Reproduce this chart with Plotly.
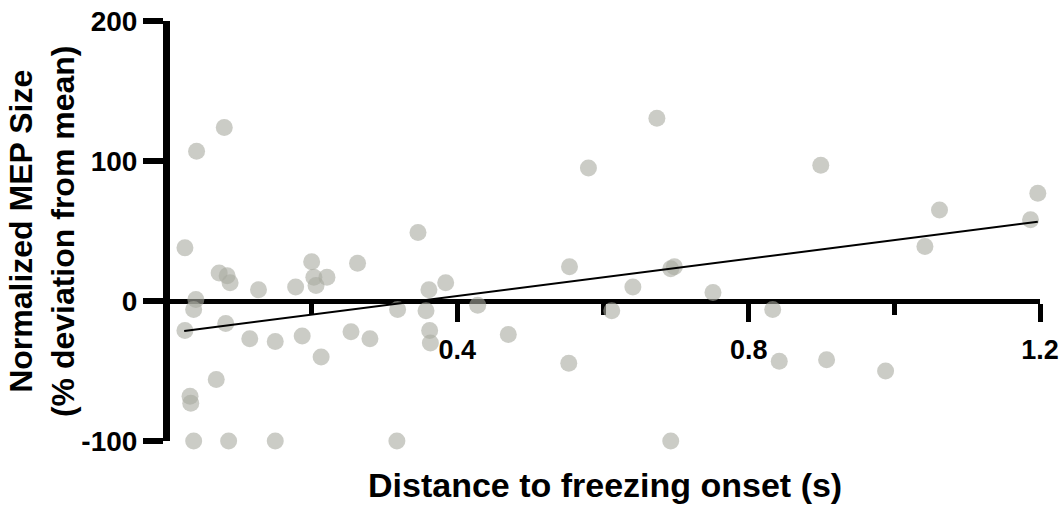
import plotly.graph_objects as go

# Scatter data
dist_s = [0.026, 0.042, 0.080, 0.073, 0.084, 0.088, 0.127, 0.178, 0.200, 0.203,
          0.206, 0.221, 0.263, 0.041, 0.038, 0.026, 0.082, 0.115, 0.150, 0.187,
          0.213, 0.254, 0.280, 0.069, 0.033, 0.034, 0.038, 0.086, 0.150, 0.346,
          0.361, 0.384, 0.318, 0.357, 0.428, 0.362, 0.363, 0.470, 0.317, 0.554,
          0.553, 0.580, 0.612, 0.641, 0.674, 0.693, 0.698, 0.693, 0.751, 0.833,
          0.842, 0.899, 0.907, 0.988, 1.042, 1.062, 1.187, 1.197]
mep_pct = [38, 107, 124, 20, 18, 13, 8, 10, 28, 17,
           11, 17, 27, 1, -6, -21, -16, -27, -29, -25,
           -40, -22, -27, -56, -68, -73, -100, -100, -100, 49,
           8, 13, -6, -7, -3, -21, -30, -24, -100, 24.5,
           -44.5, 95, -7, 10, 130.5, 23, 24.5, -100, 6, -6,
           -43, 97, -42, -50, 39, 65, 58, 77]

# Regression line end points
fit_x = [0.025, 1.197]
fit_y = [-21.4, 56.6]

x_major_ticks = [0.4, 0.8, 1.2]
x_major_labels = ["0.4", "0.8", "1.2"]
x_minor_ticks = [0.2, 0.6, 1.0]
y_ticks = [-100, 0, 100, 200]
y_labels = ["-100", "0", "100", "200"]

FONT = "Liberation Sans, Arial, sans-serif"

fig = go.Figure()
fig.add_trace(go.Scatter(
    x=dist_s, y=mep_pct, mode="markers",
    marker=dict(size=17, color="rgb(168,170,160)", opacity=0.6, line=dict(width=0)),
    cliponaxis=False, showlegend=False, hoverinfo="x+y"))
fig.add_trace(go.Scatter(
    x=fit_x, y=fit_y, mode="lines",
    line=dict(color="black", width=2),
    cliponaxis=False, showlegend=False, hoverinfo="skip"))

fig.update_layout(
    width=1062, height=507,
    margin=dict(l=170, r=22, t=21, b=66, autoexpand=False),
    paper_bgcolor="white", plot_bgcolor="white",
    font=dict(family=FONT, color="black"),
    xaxis=dict(
        range=[0.0055, 1.2], anchor="free", position=1/3,
        showline=True, linecolor="black", linewidth=5,
        showgrid=False, zeroline=False,
        tickmode="array", tickvals=x_major_ticks, ticktext=x_major_labels,
        ticks="outside", ticklen=18, tickwidth=5, tickcolor="black",
        ticklabelstandoff=5,
        tickfont=dict(family=FONT, size=27, color="black", weight="bold"),
        minor=dict(tickmode="array", tickvals=x_minor_ticks, ticks="outside",
                   ticklen=11, tickwidth=5, tickcolor="black", showgrid=False),
        layer="below traces",
    ),
    yaxis=dict(
        range=[-100, 200],
        showline=True, linecolor="black", linewidth=7,
        showgrid=False, zeroline=False,
        tickmode="array", tickvals=y_ticks, ticktext=y_labels,
        ticks="outside", ticklen=20, tickwidth=6, tickcolor="black",
        tickfont=dict(family=FONT, size=28, color="black", weight="bold"),
        layer="below traces",
    ),
    annotations=[
        dict(text="Distance to freezing onset (s)", xref="paper", yref="paper",
             x=0.5, y=-0.105, xanchor="center", yanchor="middle", showarrow=False,
             font=dict(family=FONT, size=34, color="black", weight="bold")),
        dict(text="Normalized MEP Size<br>(% deviation from mean)", xref="paper", yref="paper",
             x=-0.147, y=0.5, xanchor="center", yanchor="middle", showarrow=False,
             textangle=-90,
             font=dict(family=FONT, size=32, color="black", weight="bold")),
    ],
)

fig.write_html(
    "out.html",
    config={"displayModeBar": False},
    post_script="document.body.style.margin='0';document.body.style.overflow='hidden';",
)
